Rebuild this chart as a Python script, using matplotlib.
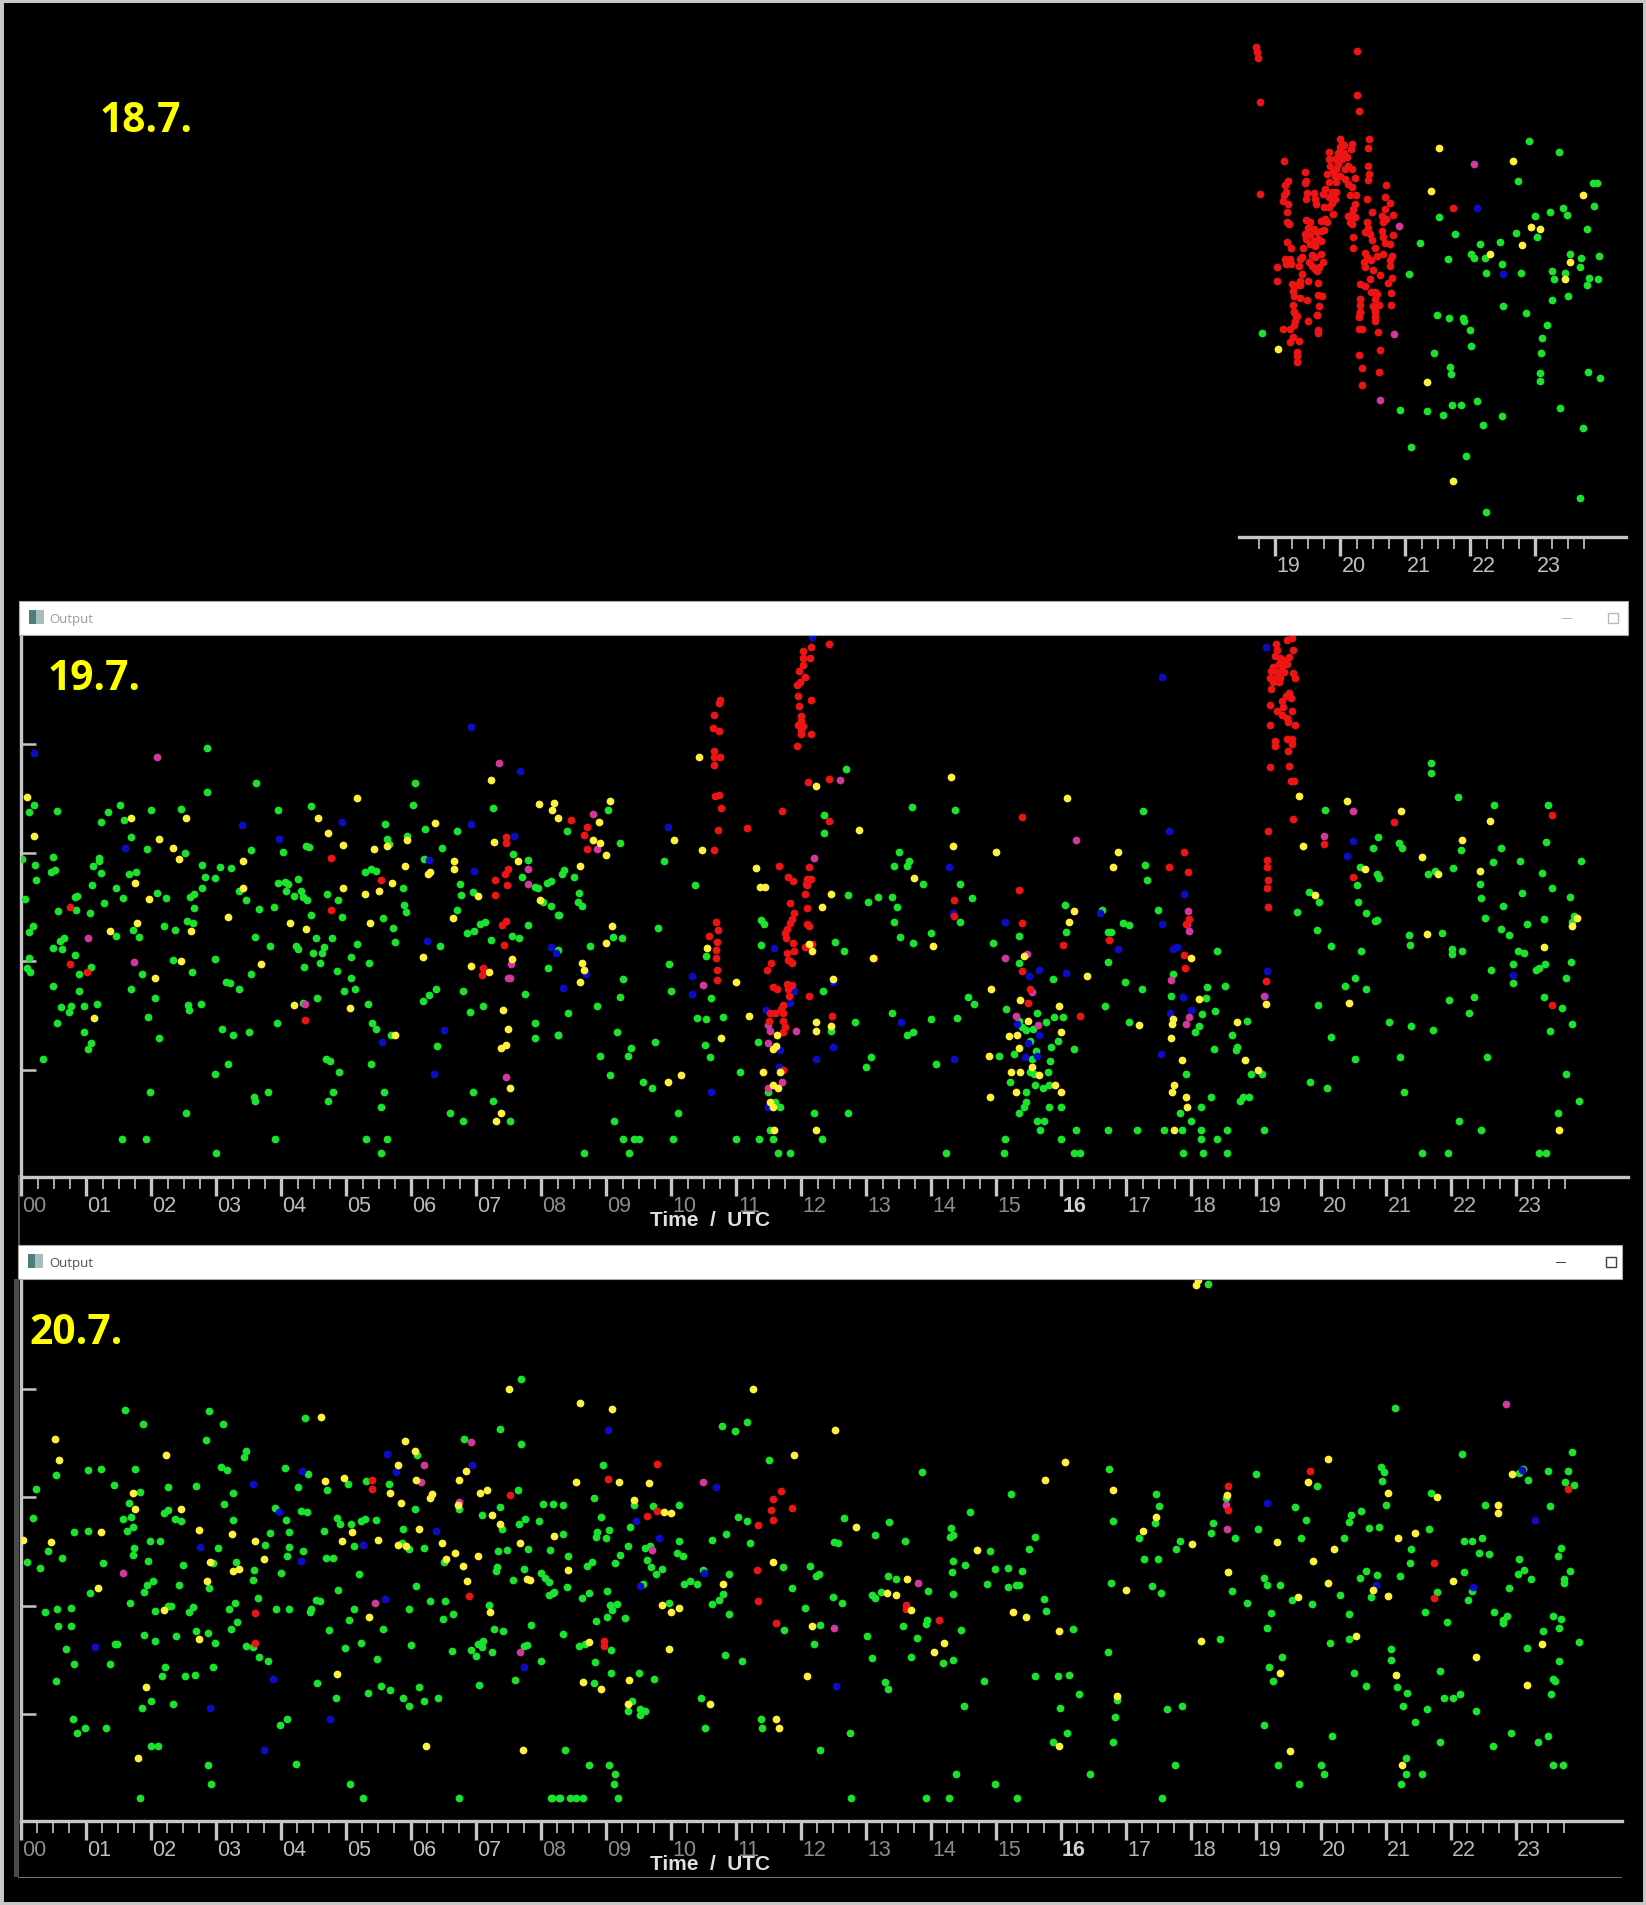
import matplotlib
matplotlib.use("Agg")
import matplotlib.pyplot as plt
import numpy as np
from matplotlib.patches import Rectangle

# (hour UTC, height) for every echo, one array per colour and per day
red_18 = [(18.71,4.52),(18.72,4.48),(18.73,4.42),(18.76,4.02),(18.76,3.17),(20.26,4.49),(20.26,4.08),(20.28,3.93),(20.44,3.68),(20.43,3.59),(20.43,3.43),(20.44,3.35),(20.43,3.30),
(19.14,3.47),(19.19,3.29),(19.15,3.25),(19.17,3.19),(19.13,3.16),(19.12,3.11),(19.19,3.08),(19.18,3.00),(19.18,2.91),(19.21,2.89),(19.18,2.73),(19.24,2.67),(19.02,2.50),(19.02,2.37),(19.15,2.57),(19.23,2.57),(19.17,2.53),(19.24,2.53),
(19.46,3.37),(19.47,3.29),(19.46,3.27),(19.49,3.18),(19.47,3.12),(19.60,3.18),(19.61,3.12),(19.63,3.08),(19.83,3.56),
(19.99,3.68),(20.02,3.63),(19.99,3.60),(20.06,3.62),(20.18,3.63),(20.16,3.58),(19.82,3.49),(19.92,3.49),(20.02,3.49),(20.10,3.51),(19.84,3.43),(19.97,3.45),(20.12,3.43),(20.07,3.40),(20.18,3.40),(19.79,3.35),(19.92,3.34),(19.99,3.34),(20.07,3.31),(20.23,3.32),(19.82,3.28),(19.94,3.28),(20.12,3.26),(20.18,3.23),(19.77,3.22),(19.87,3.19),(19.94,3.19),(19.74,3.17),(19.82,3.14),(19.92,3.12),(19.87,3.09),(19.75,3.05),(19.82,3.05),(19.89,2.99),(20.15,3.16),(20.24,3.16),(20.23,3.08),(20.20,3.03),(20.18,2.99),(20.12,2.97),(20.23,2.96),(20.15,2.91),(20.18,2.89),(19.77,2.94),(19.71,2.92),(19.79,2.91),(19.75,2.84),(19.71,2.83),(19.89,3.38),(19.97,3.55),(20.05,3.55),(19.94,3.40),
(19.47,2.93),(19.53,2.91),(19.51,2.86),(19.59,2.85),(19.46,2.80),(19.54,2.79),(19.64,2.82),(19.48,2.76),(19.59,2.74),(19.66,2.76),(19.53,2.71),(19.61,2.69),(19.71,2.74),(19.42,2.67),(19.56,2.61),(19.71,2.62),(19.41,2.59),(19.38,2.57),(19.61,2.59),(19.74,2.54),(19.36,2.51),(19.52,2.54),(19.56,2.51),(19.61,2.48),(19.68,2.50),(19.64,2.46),
(19.41,2.43),(19.38,2.37),(19.25,2.34),(19.50,2.37),(19.33,2.33),(19.38,2.33),(19.27,2.28),(19.65,2.35),(19.28,2.23),(19.38,2.21),(19.49,2.19),(19.65,2.24),(19.72,2.23),(19.27,2.15),(19.68,2.14),(19.28,2.08),(19.32,2.05),(19.64,2.06),
(20.71,3.25),(20.69,3.14),(20.41,3.12),(20.77,3.09),(20.49,3.00),(20.69,3.03),(20.81,2.98),(20.64,2.97),(20.71,2.94),(20.66,2.91),(20.41,2.91),(20.43,2.86),(20.38,2.82),(20.46,2.80),(20.64,2.83),(20.66,2.77),(20.81,2.79),(20.20,2.77),(20.49,2.75),(20.69,2.72),(20.76,2.71),(20.20,2.67),(20.53,2.67),(20.38,2.63),(20.66,2.62),(20.56,2.60),(20.79,2.60),(20.77,2.56),(20.41,2.59),(20.36,2.54),(20.48,2.56),(20.76,2.51),(20.38,2.50),(20.51,2.47),(20.61,2.42),(20.79,2.40),(20.46,2.39),(20.74,2.35),(20.30,2.34),(20.38,2.32),(20.53,2.27),(20.78,2.26),(20.48,2.27),(20.56,2.25),(20.53,2.20),(20.30,2.20),(20.51,2.14),(20.60,2.15),(20.30,2.15),(20.78,2.15),(20.53,2.10),(20.30,2.08),(20.29,2.04),(20.53,2.04),
(19.29,2.08),(19.34,2.05),(19.30,2.00),(19.29,1.96),(19.23,1.93),(19.12,1.93),(19.51,2.00),(19.64,2.06),(19.65,1.92),(19.66,1.89),(19.27,1.85),(19.23,1.81),(19.36,1.82),(19.34,1.72),(19.33,1.68),(19.34,1.62),
(20.30,2.08),(20.29,2.05),(20.53,2.08),(20.54,2.00),(20.28,1.93),(20.34,1.93),(20.58,1.90),(20.61,1.73),(20.28,1.69),(20.33,1.57),(20.59,1.53),(20.34,1.41),(21.73,3.04)]
magenta_18 = [(22.05,3.45),(20.91,2.88),(20.83,1.88),(20.61,1.27)]
blue_18 = [(22.11,3.04),(22.50,2.43)]
yellow_18 = [(21.52,3.59),(21.39,3.20),(22.65,3.47),(23.73,3.16),(22.93,2.87),(23.08,2.85),(22.80,2.70),(22.31,2.62),(23.54,2.54),(23.46,2.39),(19.04,1.74),(21.33,1.44),(21.73,0.53)]
green_18 = [(22.91,3.66),(23.37,3.56),(22.73,3.29),(23.89,3.27),(23.95,3.27),(23.90,3.06),(23.43,3.04),(23.48,2.98),(23.23,3.00),(22.99,2.97),(21.52,2.96),(23.80,2.85),(22.70,2.81),(23.02,2.77),(21.77,2.80),(22.45,2.73),(21.23,2.72),(22.15,2.71),(22.01,2.62),(22.06,2.58),(22.23,2.58),(21.66,2.57),(22.48,2.53),(23.54,2.62),(23.71,2.58),(23.98,2.60),(23.68,2.50),(22.24,2.44),(22.78,2.44),(23.26,2.46),(23.29,2.39),(23.46,2.44),(23.83,2.40),(23.97,2.39),(23.80,2.33),(21.05,2.43),(23.51,2.23),(23.26,2.19),(22.51,2.14),
(21.49,2.06),(21.68,2.03),(21.89,2.03),(21.91,2.00),(22.86,2.07),(23.18,1.96),(21.99,1.92),(18.79,1.89),(23.11,1.84),(22.01,1.77),(23.09,1.71),(21.44,1.71),(21.69,1.58),(21.71,1.51),(23.08,1.52),(23.07,1.45),(23.81,1.53),(23.99,1.48),(22.11,1.26),(21.72,1.23),(21.86,1.23),(23.38,1.20),(20.92,1.18),(21.34,1.17),(21.58,1.14),(22.48,1.13),(22.20,1.04),(23.73,1.02),(21.09,0.84),(21.93,0.76),(23.68,0.37),(22.24,0.24)]

green_19 = [(.19,3.44),(.11,3.37),(.54,3.38),(1.23,3.28),(1.33,3.37),(1.51,3.44),(1.58,3.30),(1.69,3.14),(1.99,3.39),(2.46,3.40),(2.85,3.96),(2.85,3.56),(3.61,3.64),(3.95,3.39),(4.46,3.43),(6.06,3.64),(6.03,3.44),(5.60,3.26),(5.62,3.13),(5.65,3.08),(5.93,3.15),(6.21,3.22),(6.70,3.20),(7.25,3.41),(6.47,3.04),(6.20,2.94),(7.57,2.99),(7.79,2.93),(1.93,3.03),(2.51,3.00),(3.53,3.02),(4.03,3.01),(4.38,3.06),(4.42,3.05),(.48,2.96),(.01,2.94),(.21,2.89),(1.19,2.95),(1.19,2.92),(1.10,2.88),(1.23,2.81),(.52,2.84),(.45,2.82),(.23,2.75),(1.66,2.80),(1.76,2.82),(2.78,2.89),(3.06,2.87),(3.23,2.86),(2.83,2.78),(2.98,2.77),(5.28,2.82),(5.38,2.85),(5.46,2.83),(1.08,2.70),(1.45,2.67),(2.78,2.67),(2.66,2.62),(2.60,2.59),(3.35,2.65),(3.95,2.72),(4.05,2.73),(4.10,2.71),(4.25,2.76),(4.07,2.65),(4.30,2.65),(4.20,2.60),(4.34,2.59),(4.40,2.56),(4.70,2.62),(4.87,2.56),(5.87,2.67),(6.74,2.71),(6.77,2.61),(6.94,2.64),(7.70,2.78),(7.90,2.68),(7.94,2.67),(8.09,2.72),(8.14,2.74),(.82,2.59),(.86,2.60),(.05,2.57),(1.57,2.58),(2.09,2.63),(2.23,2.58),(1.27,2.54),(.84,2.47),(.56,2.46),(1.06,2.44),(3.45,2.56),(3.65,2.48),(3.88,2.50),(2.66,2.49),(4.45,2.43),(4.93,2.41),(5.88,2.52),(5.92,2.45),(6.70,2.47),(5.57,2.40),(5.72,2.31),(8.02,2.55),(8.15,2.51),(8.25,2.43),(.18,2.32),(.11,2.27),(1.71,2.29),(1.81,2.22),(1.46,2.23),(2.19,2.32),(2.36,2.29),(2.54,2.37),(2.64,2.35),(.66,2.21),(.59,2.19),(.49,2.12),(.63,2.11),(.82,2.06),(3.59,2.22),(3.83,2.14),(4.53,2.21),(4.78,2.21),(4.23,2.14),(4.25,2.11),(4.48,2.08),(4.62,2.08),(4.66,2.13),(5.16,2.16),(5.74,2.18),(6.44,2.14),(6.85,2.26),(6.97,2.28),(7.06,2.34),(7.13,2.36),(7.22,2.20),(7.55,2.23),(7.65,2.21),(7.79,2.33),(8.25,2.10),(.11,2.03),(.08,1.94),(.13,1.90),(1.07,1.95),(.88,1.88),(1.85,1.88),(2.33,2.01),(2.98,2.02),(2.63,1.90),(3.53,1.88),(4.35,1.95),(4.59,1.98),(4.85,1.91),(5.07,2.04),(5.35,1.98),(5.07,1.85),(8.10,1.94),(.48,1.77),(.88,1.73),(1.68,1.74),(3.14,1.81),(3.21,1.80),(3.35,1.74),(4.54,1.66),(4.97,1.73),(5.13,1.74),(6.38,1.74),(6.80,1.73),(7.75,1.70),(6.27,1.69),(6.18,1.63),(2.06,1.66),(.61,1.58),(.76,1.59),(.73,1.53),(.96,1.59),(1.16,1.61),(2.57,1.60),(2.58,1.55),(2.76,1.61),(4.33,1.62),(5.34,1.61),(6.90,1.53),(7.10,1.59),(.54,1.43),(1.95,1.49),(3.93,1.43),(5.40,1.43),(5.46,1.38),(7.90,1.43),(7.90,1.29),(8.25,1.32),(.96,1.35),(2.11,1.29),(3.09,1.38),(3.25,1.32),(3.50,1.35),(5.68,1.32),(6.40,1.22),(1.07,1.25),(1.03,1.19),(.33,1.10),(4.69,1.10),(4.74,1.08),(3.18,1.05),(2.98,.96),(4.88,.98),(5.38,1.05),(1.98,.80),(3.80,.80),(3.58,.75),(3.60,.71),(4.80,.80),(4.71,.71),(5.58,.80),(5.53,.66),(6.95,.80),(7.25,.71),(2.53,.60),(6.59,.60),(6.80,.53),(7.51,.53),(1.54,.36),(1.91,.36),(3.90,.36),(5.30,.36),(5.63,.36),(2.99,.23),(5.53,.23),
(12.68,3.77),(13.70,3.42),(14.37,3.39),(9.03,3.39),(12.35,3.35),(12.35,3.18),(8.40,3.20),(9.21,3.09),(9.88,2.92),(13.50,3.01),(13.66,2.92),(13.63,2.88),(13.42,2.88),(8.35,2.84),(8.31,2.80),(8.50,2.78),(10.36,2.70),(14.44,2.71),(13.87,2.71),(8.58,2.63),(8.57,2.55),(8.63,2.51),(12.72,2.61),(13.02,2.55),(13.18,2.59),(13.40,2.59),(13.47,2.50),(14.63,2.58),(16.05,2.52),(16.63,2.47),(8.27,2.43),(13.43,2.36),(14.44,2.36),(9.79,2.31),(11.38,2.38),(11.42,2.34),(14.00,2.26),(15.34,2.23),(16.07,2.27),(16.71,2.27),(9.10,2.22),(9.24,2.21),(13.51,2.22),(13.72,2.17),(12.51,2.18),(11.38,2.15),(8.75,2.14),(14.95,2.17),(12.65,2.09),(10.53,2.05),(9.96,1.97),(15.35,1.98),(15.87,1.84),(9.26,1.84),(16.71,1.99),(10.00,1.73),(12.33,1.73),(9.21,1.67),(14.57,1.67),(14.65,1.61),(10.61,1.66),(8.86,1.59),(16.67,1.59),(8.41,1.52),(10.40,1.48),(10.53,1.47),(10.80,1.49),(13.40,1.52),(14.00,1.47),(14.39,1.48),(12.83,1.44),(15.15,1.56),(15.62,1.52),(15.77,1.44),(15.89,1.49),(16.02,1.49),(15.35,1.45),(15.40,1.39),(15.46,1.37),(15.57,1.38),(12.46,1.36),(9.17,1.35),(8.26,1.32),(9.75,1.26),(13.72,1.35),(13.63,1.32),(11.33,1.26),(9.38,1.20),(10.52,1.23),(15.51,1.27),(15.94,1.27),(15.84,1.21),(16.20,1.19),(9.33,1.13),(8.90,1.13),(10.60,1.12),(15.04,1.13),(15.27,1.15),(13.07,1.12),(15.61,1.17),(15.54,1.10),(15.82,1.08),(13.00,1.03),(14.07,1.05),(9.05,.95),(11.05,.98),(15.51,.98),(15.58,.96),(15.79,.98),(9.57,.89),(15.21,.89),(9.70,.83),(15.60,.86),(15.71,.83),(15.81,.86),(15.45,.80),(11.49,.80),(15.46,.70),(15.42,.66),(15.81,.66),(16.00,.66),(11.59,.70),(11.67,.66),(10.10,.60),(12.19,.60),(12.72,.60),(15.34,.60),(9.12,.53),(15.62,.53),(15.73,.53),(11.52,.45),(15.67,.45),(16.22,.45),(16.71,.45),(9.25,.36),(9.42,.36),(9.50,.36),(10.02,.36),(10.99,.36),(11.35,.36),(11.57,.36),(12.32,.36),(15.13,.36),(16.00,.36),(8.65,.23),(9.35,.23),(11.64,.23),(11.83,.23),(14.23,.23),(15.12,.23),(16.19,.23),(16.29,.23),
(17.25,3.38),(21.69,3.83),(21.69,3.73),(22.10,3.51),(22.65,3.44),(23.49,3.44),(20.05,3.39),(23.46,3.10),(20.87,3.14),(20.79,3.04),(21.20,3.09),(21.24,3.04),(22.14,3.02),(22.76,3.04),(22.64,2.91),(23.06,2.92),(24.00,2.92),(17.29,2.89),(17.32,2.75),(20.59,2.87),(21.64,2.80),(21.75,2.83),(22.03,2.86),(20.86,2.80),(20.88,2.77),(23.39,2.81),(20.54,2.70),(22.44,2.71),(23.54,2.67),(19.81,2.64),(19.96,2.55),(20.57,2.55),(22.46,2.58),(23.09,2.63),(23.82,2.59),(22.79,2.51),(17.49,2.47),(19.62,2.45),(20.69,2.44),(22.52,2.40),(20.83,2.37),(20.86,2.38),(23.89,2.42),(23.42,2.39),(23.86,2.36),(23.16,2.34),(16.94,2.35),(17.04,2.33),(16.77,2.27),(19.93,2.29),(22.77,2.30),(21.34,2.24),(21.86,2.26),(22.89,2.24),(21.37,2.15),(20.15,2.14),(22.01,2.11),(22.01,2.07),(22.17,2.09),(20.61,2.09),(18.39,2.09),(23.02,2.09),(23.12,2.08),(23.84,1.99),(22.94,1.97),(23.44,1.97),(23.34,1.94),(23.30,1.92),(22.61,1.92),(20.51,1.85),(23.77,1.85),(17.72,1.88),(16.98,1.81),(17.24,1.74),(22.95,1.80),(18.24,1.76),(18.52,1.77),(20.37,1.77),(20.69,1.74),(17.69,1.68),(18.22,1.66),(22.34,1.67),(23.42,1.67),(21.96,1.64),(19.95,1.60),(23.70,1.57),(18.37,1.54),(22.27,1.52),(18.17,1.51),(17.04,1.44),(18.86,1.45),(21.04,1.44),(21.38,1.40),(21.72,1.37),(23.85,1.42),(23.52,1.36),(18.11,1.40),(18.05,1.35),(18.62,1.32),(20.14,1.30),(18.70,1.21),(18.68,1.18),(18.35,1.19),(21.21,1.12),(22.54,1.12),(20.52,1.10),(17.92,.96),(18.92,.96),(19.08,.96),(23.76,.96),(19.82,.89),(20.08,.83),(21.27,.80),(18.30,.75),(18.74,.71),(18.80,.75),(18.88,.75),(23.97,.71),(18.15,.66),(17.82,.60),(23.64,.60),(18.00,.53),(22.12,.53),(17.17,.45),(17.58,.45),(17.86,.45),(18.14,.45),(18.54,.45),(19.11,.45),(22.46,.45),(18.15,.36),(18.39,.36),(17.87,.23),(18.18,.23),(18.55,.23),(21.54,.23),(21.95,.23),(23.35,.23),(23.46,.23)]
yellow_19 = [(.09,3.51),(.19,3.15),(1.69,3.32),(2.53,3.32),(2.12,3.13),(2.33,3.04),(2.43,2.94),(1.75,2.72),(1.96,2.57),(3.41,2.92),(3.41,2.67),(4.57,3.32),(4.71,3.18),(5.16,3.50),(4.95,3.07),(4.95,2.67),(5.43,3.03),(5.62,3.06),(5.93,3.12),(5.90,2.88),(6.36,3.27),(6.25,2.80),(6.29,2.82),(6.65,2.92),(6.66,2.85),(7.22,3.67),(7.27,3.10),(7.64,2.92),(7.96,3.45),(8.19,3.46),(8.16,3.39),(8.25,3.32),(7.03,2.60),(7.98,2.56),(5.70,2.72),(5.28,2.62),(5.50,2.65),(5.37,2.35),(6.64,2.40),(3.18,2.41),(1.78,2.35),(1.36,2.28),(2.61,2.28),(4.13,2.35),(4.38,2.30),(2.45,2.00),(2.06,1.85),(3.68,1.97),(6.18,2.04),(6.92,1.96),(7.20,1.90),(7.54,2.02),(4.20,1.60),(5.05,1.57),(1.11,1.48),(7.41,1.55),(7.49,1.38),(5.74,1.32),(7.46,1.23),(7.38,1.20),(7.51,.83),(7.38,.60),(7.30,.53),
(10.43,3.88),(14.30,3.70),(12.23,3.61),(9.05,3.48),(8.88,3.28),(12.88,3.21),(10.04,3.12),(8.80,3.12),(8.90,3.09),(9.00,2.98),(10.47,3.02),(14.33,3.06),(14.99,3.01),(11.30,2.86),(16.09,3.50),(8.60,2.88),(11.37,2.68),(11.44,2.68),(13.73,2.77),(12.45,2.62),(12.32,2.50),(16.20,2.46),(16.12,2.36),(9.08,2.32),(8.99,2.17),(10.55,2.12),(12.12,2.16),(12.17,2.09),(14.02,2.14),(13.10,2.03),(15.43,2.05),(8.63,1.98),(8.66,1.92),(8.60,1.81),(11.00,1.81),(12.48,1.84),(16.39,1.86),(14.92,1.74),(15.37,1.64),(15.97,1.59),(11.19,1.50),(12.22,1.44),(12.22,1.36),(12.46,1.40),(15.49,1.45),(15.99,1.35),(11.63,1.32),(10.77,1.29),(15.20,1.31),(15.32,1.32),(11.56,1.19),(11.61,1.22),(15.35,1.20),(14.88,1.13),(15.54,1.03),(10.15,.95),(9.95,.89),(11.41,.98),(11.67,.98),(15.22,.98),(15.37,.98),(15.66,.95),(11.57,.86),(11.64,.83),(15.90,.86),(15.30,.80),(15.99,.80),(14.90,.75),(11.52,.70),(11.57,.66),(11.58,.45),(12.23,.45),
(19.65,3.52),(20.40,3.48),(21.22,3.38),(22.59,3.29),(16.87,3.01),(16.80,2.87),(19.72,3.06),(22.16,3.12),(21.55,2.96),(20.67,2.85),(21.80,2.80),(22.44,2.83),(19.90,2.61),(23.93,2.40),(23.85,2.32),(21.62,2.25),(23.42,2.13),(17.99,2.03),(19.14,1.61),(18.12,1.65),(20.43,1.62),(18.70,1.44),(17.72,1.47),(17.70,1.42),(17.20,1.41),(17.69,1.29),(17.85,1.09),(18.82,1.09),(19.02,1.00),(17.73,.86),(17.70,.80),(17.92,.75),(17.93,.66),(17.73,.45),(23.65,.45)]
red_19 = [(.74,2.50),(.74,1.97),(1.01,1.90),(4.36,1.46),(4.76,2.95),(4.76,2.47),(5.53,2.75),(7.45,3.14),(7.45,3.09),(7.49,2.85),(7.44,2.80),(7.28,2.75),(7.47,2.70),(7.28,2.61),(7.45,2.37),(7.39,2.33),(7.42,2.15),(7.10,1.94),(7.09,1.87),
(12.43,4.92),(12.14,4.89),(12.02,4.86),(12.03,4.79),(12.13,4.79),(12.02,4.73),(11.97,4.67),(12.05,4.62),(11.98,4.57),(11.93,4.54),(11.95,4.44),(12.15,4.41),(11.96,4.35),(12.00,4.26),(12.00,4.21),(11.94,4.18),(12.02,4.17),(11.99,4.13),(11.99,4.09),(12.14,4.09),(11.93,3.98),
(10.75,4.41),(10.73,4.38),(10.65,4.27),(10.64,4.15),(10.73,4.12),(10.66,3.94),(10.65,3.88),(10.75,3.88),(10.65,3.81),(10.67,3.52),(10.73,3.53),(10.77,3.41),(10.72,3.21),(10.65,3.02),
(12.10,3.65),(12.43,3.68),(11.70,3.38),(12.42,3.29),(11.17,3.23),(8.70,3.24),(8.45,3.30),(8.66,3.16),(8.70,3.03),
(11.65,2.88),(12.12,2.87),(11.80,2.78),(11.87,2.74),(12.08,2.76),(12.15,2.76),(12.07,2.71),(12.09,2.70),(12.06,2.62),(11.82,2.54),(11.88,2.44),(11.86,2.39),(12.09,2.49),(12.08,2.34),(12.11,2.32),(11.82,2.35),(11.78,2.30),(11.75,2.26),(11.76,2.21),(11.87,2.17),(12.16,2.16),(12.05,2.13),(11.78,2.08),(11.88,2.09),(11.79,2.01),(11.86,1.98),(11.82,2.00),(11.53,1.98),(11.47,1.92),(10.68,2.36),(10.72,2.29),(10.58,2.23),(10.70,2.18),(10.68,2.10),(10.68,2.03),(10.70,1.92),(10.70,1.83),
(11.56,1.76),(11.62,1.74),(11.78,1.79),(11.85,1.78),(11.79,1.74),(11.81,1.68),(12.12,1.68),(11.72,1.60),(11.69,1.56),(11.72,1.52),(11.52,1.52),(11.59,1.52),(11.71,1.45),(11.75,1.39),(11.72,1.35),(11.50,1.45),(12.47,1.50),(13.12,2.03),(14.35,2.56),(14.35,2.42),(15.39,3.33),(15.35,2.66),(15.39,2.35),(15.40,1.91),(15.48,1.62),(16.02,2.15),(16.29,1.50),(15.51,1.74),(11.72,1.00),
(19.47,4.96),(19.55,4.98),(19.30,4.92),(19.57,4.87),(19.31,4.87),(19.29,4.81),(19.50,4.80),(19.37,4.79),(19.42,4.77),(19.34,4.74),(19.47,4.74),(19.26,4.71),(19.39,4.71),(19.23,4.67),(19.32,4.66),(19.42,4.66),(19.57,4.65),(19.21,4.61),(19.29,4.61),(19.37,4.61),(19.59,4.61),(19.26,4.57),(19.34,4.57),(19.22,4.51),(19.50,4.47),(19.45,4.44),(19.53,4.42),(19.40,4.40),(19.41,4.34),(19.21,4.36),(19.31,4.30),(19.55,4.30),(19.39,4.27),(19.47,4.24),(19.21,4.18),(19.49,4.20),(19.59,4.18),(19.29,4.03),(19.47,4.05),(19.54,4.05),(19.29,3.98),(19.55,4.00),(19.48,3.94),(19.21,3.79),(19.50,3.80),(19.53,3.66),(19.58,3.66),(19.57,3.31),(19.18,3.20),(19.16,2.93),(19.17,2.87),(19.18,2.75),(19.17,2.67),(19.18,2.50),(19.14,1.82),(21.12,3.28),(20.04,3.08),(20.49,2.78),(23.54,3.35),(23.54,1.60),(17.89,3.01),(17.65,2.87),(17.95,2.82),(17.96,2.39),(17.92,2.34),(17.88,2.06),(17.90,1.94),(16.73,2.20)]
magenta_19 = [(2.08,3.88),(1.03,2.21),(1.73,1.99),(4.36,1.61),(7.35,3.83),(7.80,2.85),(7.79,2.71),(7.53,1.97),(7.48,1.85),(7.52,1.85),(7.46,.93),(8.80,3.36),(8.85,3.03),(12.20,2.95),(12.60,3.67),(10.49,1.78),(16.22,3.12),(15.13,2.03),(15.47,2.07),(15.55,1.72),(11.49,1.41),(11.52,1.36),(11.92,1.36),(11.49,1.25),(11.70,.89),(11.48,.83),(15.30,1.50),(15.64,1.41),(20.04,3.15),(20.49,3.38),(17.95,2.46),(17.93,2.34),(17.97,2.28),(17.69,1.83),(19.12,1.68),(17.96,1.49),(17.91,1.42)]
blue_19 = [(.19,3.92),(1.59,3.04),(3.40,3.25),(3.97,3.13),(4.93,3.28),(6.92,4.16),(7.67,3.75),(6.92,3.26),(7.58,3.15),(6.27,2.93),(6.97,2.83),(6.24,2.19),(8.15,2.13),(8.22,2.08),(6.50,1.37),(5.55,1.26),(6.35,.96),(9.95,3.24),(14.27,2.87),(14.33,2.44),(15.13,2.36),(16.60,2.44),(11.58,2.12),(8.68,1.88),(8.33,1.75),(10.31,1.86),(10.32,1.70),(12.49,1.81),(11.89,1.73),(11.83,1.62),(11.46,1.55),(15.65,1.92),(15.50,1.86),(16.07,1.89),(11.67,1.18),(12.48,1.21),(12.23,1.10),(14.35,1.10),(13.54,1.44),(11.65,1.03),(10.61,.80),(11.49,.66),(15.32,1.42),(15.65,1.32),(15.49,1.25),(15.44,1.12),(15.62,1.13),(17.54,4.62),(19.15,4.89),(17.65,3.20),(17.89,2.62),(17.54,2.34),(20.39,2.97),(20.48,3.11),(16.87,2.11),(17.72,2.11),(17.78,2.13),(19.16,1.91),(19.13,1.68),(17.87,1.67),(17.99,1.55),(17.67,1.52),(17.53,1.15),(22.95,1.87),(12.17,4.99)]

green_20 = [(18.26,4.96),(1.61,3.80),(1.88,3.67),(2.90,3.79),(3.11,3.67),(2.85,3.53),(4.38,3.73),(3.46,3.43),(3.43,3.37),(7.70,4.09),(7.37,3.63),(7.69,3.49),(6.82,3.54),(6.10,3.39),(.54,3.20),(.24,3.08),(1.03,3.25),(1.24,3.26),(1.76,3.26),(1.43,3.11),(1.84,3.05),(1.66,2.95),(2.26,3.09),(2.69,3.10),(3.08,3.28),(3.18,3.25),(3.27,3.04),(3.13,2.94),(4.07,3.27),(4.42,3.21),(4.26,3.09),(4.71,3.07),(5.03,3.12),(5.31,3.15),(5.66,3.12),(7.65,3.07),(7.37,2.91),(6.07,2.89),(6.75,2.89),(7.10,2.84),(8.03,2.94),(.19,2.81),(1.58,2.80),(1.69,2.82),(1.64,2.69),(1.73,2.73),(.82,2.68),(1.04,2.69),(2.20,2.85),(2.26,2.88),(2.37,2.80),(2.46,2.78),(3.27,2.79),(3.91,2.90),(4.08,2.79),(4.31,2.87),(4.40,2.86),(4.86,2.81),(4.91,2.75),(5.08,2.75),(5.23,2.78),(5.30,2.80),(5.46,2.79),(3.83,2.67),(4.13,2.68),(4.66,2.69),(5.88,2.71),(7.40,2.71),(7.76,2.80),(7.66,2.75),(7.97,2.78),(1.99,2.60),(2.14,2.60),(1.75,2.53),(1.73,2.47),(.42,2.50),(.64,2.44),(.09,2.40),(.30,2.35),(1.26,2.39),(1.96,2.41),(2.49,2.38),(3.03,2.53),(3.31,2.40),(2.96,2.39),(3.59,2.33),(3.76,2.56),(4.12,2.54),(4.09,2.46),(4.35,2.50),(4.69,2.44),(4.81,2.44),(5.12,2.55),(5.86,2.58),(5.98,2.52),(6.20,2.53),(6.52,2.40),(7.34,2.50),(7.48,2.51),(7.80,2.52),(8.14,2.51),(7.33,2.36),(7.31,2.32),(7.75,2.34),(4.01,2.30),(5.21,2.29),(3.58,2.24),(7.57,2.24),(8.01,2.30),(8.06,2.26),(8.12,2.22),(2.43,2.19),(2.03,2.23),(1.95,2.19),(1.90,2.13),(2.90,2.16),(1.06,2.12),(3.65,2.07),(4.88,2.15),(6.08,2.18),(8.20,2.13),(8.12,2.10),(.37,1.94),(.56,1.97),(.77,1.98),(1.68,2.03),(2.06,1.95),(2.26,2.00),(2.32,2.00),(2.65,1.99),(2.59,1.94),(3.30,2.03),(3.21,1.97),(3.93,1.97),(4.13,1.97),(4.55,2.05),(4.60,2.04),(4.47,1.97),(4.45,1.94),(5.12,1.97),(5.97,1.97),(6.30,2.04),(6.53,2.04),(7.20,2.01),(6.50,1.88),(6.65,1.92),(5.05,1.87),(.58,1.81),(.77,1.81),(4.75,1.78),(5.58,1.79),(7.28,1.79),(7.42,1.77),(7.85,1.82),(3.33,1.85),(3.24,1.79),(2.69,1.77),(2.88,1.75),(1.89,1.73),(2.06,1.68),(2.39,1.72),(2.99,1.66),(3.47,1.63),(3.58,1.62),(5.23,1.66),(6.00,1.64),(1.45,1.65),(1.48,1.65),(.70,1.60),(4.99,1.61),(6.63,1.58),(6.92,1.59),(7.00,1.54),(7.25,1.57),(7.04,1.65),(7.11,1.68),(7.09,1.62),(7.75,1.63),(7.79,1.64),(8.00,1.49),(.82,1.46),(1.38,1.46),(2.22,1.44),(3.66,1.53),(3.81,1.49),(5.48,1.51),(2.96,1.44),(2.18,1.35),(2.53,1.35),(2.68,1.36),(.54,1.31),(4.56,1.29),(7.60,1.32),(7.05,1.27),(5.35,1.20),(5.54,1.26),(5.68,1.22),(6.13,1.25),(4.85,1.15),(2.01,1.12),(1.87,1.06),(2.35,1.10),(5.88,1.15),(5.97,1.08),(6.21,1.12),(6.42,1.15),(.80,.96),(.86,.83),(.99,.87),(1.31,.87),(4.09,.96),(3.99,.90),(2.01,.71),(2.11,.71),(2.88,.53),(2.93,.36),(4.23,.54),(5.07,.36),(5.26,.23),(1.83,.23),(6.74,.23),(8.16,.23),(8.28,.23),
(11.51,3.34),(10.79,3.66),(10.99,3.61),(11.17,3.69),(8.96,3.30),(13.86,3.23),(16.74,3.26),(15.23,3.03),(8.19,2.94),(8.34,2.93),(8.82,2.99),(9.43,2.93),(9.72,2.92),(10.13,2.93),(8.93,2.82),(11.04,2.82),(11.17,2.78),(12.66,2.81),(13.36,2.77),(14.61,2.86),(8.34,2.66),(8.86,2.68),(8.85,2.63),(9.05,2.70),(9.00,2.62),(9.37,2.73),(10.85,2.66),(10.64,2.61),(13.15,2.65),(13.60,2.60),(14.31,2.72),(14.35,2.65),(14.29,2.63),(15.61,2.63),(11.22,2.58),(12.51,2.59),(12.58,2.58),(9.34,2.55),(9.60,2.53),(9.68,2.55),(10.13,2.60),(10.09,2.49),(10.19,2.46),(8.42,2.46),(9.22,2.47),(14.91,2.50),(15.51,2.52),(9.15,2.39),(9.64,2.42),(8.71,2.37),(8.79,2.40),(9.70,2.36),(9.87,2.34),(9.77,2.29),(11.73,2.36),(12.14,2.37),(14.35,2.41),(14.32,2.31),(14.52,2.38),(14.99,2.34),(15.19,2.35),(15.41,2.32),(10.90,2.29),(12.23,2.27),(12.28,2.29),(10.49,2.33),(13.34,2.27),(13.46,2.25),(9.58,2.20),(10.20,2.20),(10.29,2.23),(10.40,2.20),(14.86,2.20),(15.19,2.17),(15.31,2.19),(15.36,2.19),(8.40,2.17),(8.19,2.12),(8.75,2.12),(9.02,2.14),(11.87,2.16),(13.96,2.14),(14.35,2.11),(10.80,2.11),(13.09,2.10),(13.14,2.07),(13.24,2.13),(8.64,2.07),(12.49,2.08),(12.64,2.03),(10.74,2.05),(10.64,2.02),(9.07,2.01),(9.17,2.02),(9.10,1.96),(9.98,2.03),(15.74,2.06),(15.77,1.95),(12.07,1.98),(10.89,1.92),(9.02,1.90),(9.30,1.89),(8.85,1.86),(13.94,1.87),(13.92,1.83),(13.57,1.81),(12.29,1.82),(11.74,1.78),(14.46,1.78),(16.19,1.79),(8.34,1.74),(13.02,1.72),(13.79,1.70),(12.21,1.65),(8.59,1.63),(8.68,1.65),(9.08,1.59),(10.84,1.55),(16.73,1.57),(8.84,1.48),(11.09,1.49),(13.10,1.52),(13.69,1.53),(14.35,1.50),(14.19,1.47),(9.08,1.38),(9.51,1.38),(9.75,1.33),(8.82,1.29),(14.82,1.31),(15.61,1.35),(15.96,1.35),(16.13,1.36),(13.29,1.30),(13.34,1.23),(16.28,1.19),(9.40,1.12),(10.47,1.15),(14.51,1.08),(9.34,1.03),(9.53,1.05),(9.60,1.03),(9.53,.99),(15.99,1.06),(11.39,.96),(11.40,.87),(10.52,.87),(12.76,.83),(16.09,.83),(15.88,.75),(8.37,.67),(12.29,.67),(8.74,.53),(9.05,.53),(9.15,.45),(9.12,.36),(14.39,.45),(16.45,.45),(14.99,.36),(8.17,.23),(8.30,.23),(8.45,.23),(8.54,.23),(8.65,.23),(9.19,.23),(12.78,.23),(13.92,.23),(14.28,.23),(15.32,.23),
(21.15,3.82),(23.87,3.42),(22.18,3.40),(20.93,3.28),(20.97,3.23),(20.94,3.15),(19.01,3.21),(19.94,3.10),(23.11,3.26),(23.05,3.22),(23.19,3.16),(23.50,3.24),(23.80,3.24),(23.76,3.14),(23.89,3.11),(17.46,3.03),(17.51,2.92),(21.70,3.04),(18.54,2.99),(19.61,2.91),(21.01,2.93),(22.53,2.93),(23.52,2.92),(20.46,2.84),(20.62,2.87),(19.78,2.79),(20.44,2.77),(17.45,2.76),(18.34,2.76),(16.81,2.78),(18.31,2.67),(20.74,2.72),(20.89,2.73),(19.03,2.71),(21.67,2.71),(17.21,2.62),(17.83,2.60),(18.68,2.62),(19.69,2.62),(20.36,2.62),(22.20,2.60),(22.33,2.60),(22.48,2.62),(17.78,2.52),(21.39,2.52),(23.70,2.53),(23.65,2.46),(22.43,2.49),(22.59,2.48),(17.28,2.43),(17.49,2.43),(23.05,2.43),(21.37,2.39),(20.70,2.32),(20.61,2.26),(20.86,2.28),(21.22,2.27),(22.20,2.31),(23.12,2.33),(23.03,2.29),(23.84,2.32),(23.75,2.25),(23.75,2.21),(19.12,2.26),(23.23,2.25),(19.18,2.19),(19.38,2.19),(16.78,2.21),(17.40,2.18),(17.55,2.12),(18.64,2.14),(21.79,2.13),(22.32,2.14),(22.90,2.16),(20.29,2.10),(20.78,2.08),(19.56,2.05),(18.86,2.03),(19.86,2.02),(22.27,2.05),(19.24,1.93),(20.43,1.92),(21.60,1.94),(22.67,1.94),(22.86,1.91),(22.80,1.87),(22.80,1.84),(23.58,1.91),(23.70,1.88),(21.95,1.85),(19.18,1.80),(23.67,1.80),(23.42,1.77),(18.45,1.69),(20.43,1.69),(20.14,1.66),(23.97,1.67),(21.08,1.60),(23.17,1.61),(19.41,1.53),(21.08,1.50),(23.67,1.49),(19.21,1.44),(21.83,1.40),(20.51,1.38),(19.26,1.31),(23.58,1.33),(23.60,1.31),(20.70,1.26),(21.18,1.25),(21.33,1.20),(22.15,1.19),(23.55,1.19),(21.90,1.15),(22.03,1.15),(16.86,1.13),(17.86,1.08),(17.64,1.05),(21.27,1.08),(21.63,1.05),(22.39,1.03),(16.84,.98),(21.45,.93),(19.13,.90),(22.93,.83),(20.18,.80),(23.49,.80),(23.35,.75),(21.83,.75),(16.80,.75),(22.65,.71),(21.31,.60),(17.76,.53),(19.35,.53),(20.01,.53),(23.57,.53),(23.73,.53),(20.05,.45),(21.31,.45),(21.56,.45),(19.66,.36),(21.23,.36),(17.56,.23)]
yellow_20 = [(.52,3.54),(.59,3.34),(2.24,3.39),(4.62,3.74),(7.52,4.00),(5.91,3.52),(6.06,3.43),(5.80,3.30),(1.73,3.04),(1.76,2.89),(2.46,2.89),(4.68,3.15),(4.98,3.18),(6.08,3.16),(5.68,3.04),(5.85,2.95),(6.85,3.24),(6.75,3.16),(6.33,3.03),(6.30,2.99),(7.07,3.04),(7.18,3.07),(6.73,2.93),(7.25,2.84),(7.37,2.75),(.04,2.61),(.46,2.59),(1.23,2.68),(2.75,2.70),(3.25,2.66),(3.61,2.60),(5.10,2.68),(4.95,2.60),(5.50,2.61),(6.12,2.71),(5.80,2.56),(5.92,2.55),(6.48,2.58),(7.68,2.58),(8.21,2.64),(3.75,2.43),(2.92,2.40),(6.55,2.43),(6.68,2.49),(7.03,2.46),(3.26,2.32),(3.36,2.34),(6.80,2.37),(2.86,2.23),(6.86,2.23),(7.79,2.25),(7.83,2.24),(1.19,2.16),(2.21,1.96),(5.36,1.90),(7.22,1.94),(2.75,1.69),(4.86,1.37),(1.92,1.25),(1.81,.60),(6.23,.71),(7.72,.67),
(8.60,3.87),(9.10,3.81),(11.27,4.00),(12.52,3.62),(11.89,3.39),(16.06,3.32),(15.76,3.16),(8.55,3.14),(9.20,3.14),(9.67,3.13),(9.43,2.97),(9.90,2.86),(10.00,2.85),(12.85,2.73),(8.42,2.33),(14.71,2.51),(11.58,2.40),(13.64,2.25),(10.80,2.20),(13.32,2.12),(13.47,2.10),(13.69,1.96),(9.87,2.01),(10.00,1.94),(10.12,1.98),(15.26,1.94),(15.46,1.90),(12.17,1.81),(15.98,1.77),(8.75,1.67),(9.98,1.60),(14.21,1.66),(14.05,1.57),(12.10,1.35),(9.36,1.32),(8.65,1.30),(8.93,1.23),(10.60,1.10),(9.34,1.10),(11.62,.96),(11.66,.87),(15.98,.71),
(18.08,4.95),(18.11,5.00),(20.11,3.35),(19.80,3.14),(21.03,3.04),(21.79,3.00),(18.56,3.02),(22.73,2.93),(22.72,2.85),(22.95,3.21),(17.46,2.82),(17.26,2.69),(18.02,2.57),(19.33,2.59),(21.19,2.62),(21.45,2.67),(20.20,2.52),(19.88,2.41),(16.80,3.07),(18.57,2.31),(17.01,2.15),(20.11,2.21),(20.81,2.15),(21.03,2.09),(22.03,2.23),(19.65,2.08),(18.16,1.68),(20.55,1.72),(23.40,1.65),(22.39,1.53),(19.37,1.38),(21.16,1.36),(23.18,1.27),(16.86,1.17),(19.53,.66),(21.25,.53)]
red_20 = [(3.61,1.93),(3.61,1.66),(5.40,3.16),(5.40,3.08),(7.53,3.02),(6.90,2.09),(9.79,3.31),(9.04,3.17),(9.64,2.83),(9.79,2.87),(11.70,3.06),(11.58,2.98),(11.55,2.88),(11.57,2.79),(11.87,2.90),(11.34,2.74),(11.32,2.33),(11.34,2.04),(11.62,1.84),(8.98,1.68),(8.98,1.63),(13.62,2.01),(13.62,1.97),(14.13,1.87),(19.84,3.24),(18.57,3.10),(18.58,2.88),(21.74,2.39),(21.74,2.07),(23.81,3.08)]
magenta_20 = [(1.58,2.30),(5.45,2.03),(6.16,3.14),(6.21,3.30),(6.93,3.51),(6.74,2.96),(7.68,1.57),(10.50,3.14),(9.71,2.51),(13.81,2.21),(12.51,1.80),(22.85,3.86),(18.54,2.93),(18.56,2.71)]
blue_20 = [(1.14,1.62),(2.76,2.54),(3.57,3.12),(3.98,2.86),(4.32,3.24),(4.31,2.41),(5.26,2.56),(5.63,3.40),(5.78,3.23),(6.95,3.30),(6.39,2.69),(5.60,2.06),(7.75,1.44),(3.88,1.33),(2.91,1.06),(4.76,.96),(3.75,.67),(9.04,3.62),(10.69,3.09),(9.47,2.78),(9.82,2.62),(10.51,2.30),(9.52,2.18),(12.54,1.26),(19.18,2.95),(23.30,2.79),(20.85,2.19),(22.35,2.17),(23.09,3.25)]

hours_18 = [19, 20, 21, 22, 23]
hours_all = list(range(24))
day_titles = ["18.7.", "19.7.", "20.7."]

W, H = 1646, 1906
GREEN, YELLOW, RED, MAGENTA, BLUE = "#1be32d", "#fff03c", "#ee1414", "#d2389c", "#0c0cc8"
AXIS = "#c6c6c6"
SANS = "Liberation Sans"

fig = plt.figure(figsize=(W / 100, H / 100), dpi=100, facecolor="black")


def px_rect(x0, y0, x1, y1, **kw):
    r = Rectangle((x0 / W, 1 - y1 / H), (x1 - x0) / W, (y1 - y0) / H, transform=fig.transFigure, **kw)
    fig.add_artist(r)


def px_text(x, y, s, **kw):
    fig.text(x / W, 1 - y / H, s, **kw)


def panel(left, right, top, bottom, x0, ymin, ymax, hours, minors, label_colors, yaxis=True):
    # x0 = pixel of hour 00, 65 px per hour
    ax = fig.add_axes([left / W, 1 - bottom / H, (right - left) / W, (bottom - top) / H])
    ax.set_facecolor("black")
    ax.set_xlim((left - x0) / 65.0, (right - x0) / 65.0)
    ax.set_ylim(ymin, ymax)
    for s in ["top", "right"]:
        ax.spines[s].set_visible(False)
    ax.spines["bottom"].set_color(AXIS)
    ax.spines["bottom"].set_linewidth(2.4)
    ax.spines["left"].set_visible(yaxis)
    ax.spines["left"].set_color(AXIS)
    ax.spines["left"].set_linewidth(2.4)
    ax.set_xticks(hours)
    ax.set_xticks(minors, minor=True)
    ax.set_xticklabels([])
    ax.tick_params(axis="x", which="major", length=13.5, width=2.4, color=AXIS, direction="out")
    ax.tick_params(axis="x", which="minor", length=8.5, width=1.2, color=AXIS, direction="out")
    if yaxis:
        ax.set_yticks([1, 2, 3, 4])
        ax.set_yticklabels([])
        ax.tick_params(axis="y", length=11, width=1.8, color=AXIS, direction="in")
    else:
        ax.set_yticks([])
    for h, c in zip(hours, label_colors):
        weight = "bold" if h == 16 else "normal"
        ax.annotate(f"{h:02d}", (h, ymin), xytext=(9.5, -20.5), textcoords="offset points",
                    ha="center", va="center", fontsize=15.5, color=c, family=SANS,
                    weight=weight, annotation_clip=False)
    return ax


def draw_points(ax, green, blue, magenta, yellow, red):
    for pts, col in [(green, GREEN), (blue, BLUE), (magenta, MAGENTA), (red, RED), (yellow, YELLOW)]:
        arr = np.array(pts)
        ax.scatter(arr[:, 0], arr[:, 1], s=31, c=col, linewidths=0, zorder=3)


def title_bar(x0, x1, y0, y1, text_col, btn_col, btn_off):
    px_rect(x0, y0, x1, y1, facecolor="white", edgecolor="#a8a8a8", linewidth=0.8)
    px_rect(x0 + 10, y0 + 9, x0 + 17, y0 + 23, facecolor="#4f7f7c", linewidth=0)
    px_rect(x0 + 17, y0 + 9, x0 + 25, y0 + 23, facecolor="#a9bcbb", linewidth=0)
    px_text(x0 + 31, (y0 + y1) / 2, "Output", fontsize=9.5, color=text_col, family="Open Sans", va="center")
    px_rect(x1 - 66, (y0 + y1) / 2 - 0.5, x1 - 56, (y0 + y1) / 2 + 0.5, facecolor=btn_col, linewidth=0)
    px_rect(x1 - btn_off - 10, (y0 + y1) / 2 - 5, x1 - btn_off, (y0 + y1) / 2 + 5, facecolor="white", edgecolor=btn_col, linewidth=1)


# outer frame and window chrome
px_rect(0, 0, W, H, facecolor="none", edgecolor="#c8c8c8", linewidth=5)
title_bar(18.6, 1628, 602, 636, "#9a9a9a", "#b8b8b8", 10)
title_bar(18, 1622, 1246, 1280, "#505050", "#404040", 6)
px_rect(14, 1280, 18.5, 1878, facecolor="#4a4a4a", linewidth=0)
px_rect(18, 1877.5, 1622, 1878.5, facecolor="#707070", linewidth=0)
px_rect(18, 1176, 20, 1246, facecolor="#555555", linewidth=0)

# 18.7.
minors_18 = [h for h in np.arange(18.75, 24, 0.25) if h not in hours_18]
ax1 = panel(1238.7, 1626, 6, 537.7, 40.3, 0.015, 4.91, hours_18, minors_18, ["#c0c0c0"] * 5, yaxis=False)
draw_points(ax1, green_18, blue_18, magenta_18, yellow_18, red_18)

# 19.7.
minors_all = [h for h in np.arange(0, 24, 0.25) if h not in hours_all]
cols_19 = ["#8c8c8c"] + ["#bdbdbd"] * 7 + ["#8c8c8c"] * 8 + ["#d0d0d0"] + ["#b0b0b0"] * 7
ax2 = panel(21.4, 1628, 637, 1177.8, 21.4, 0.015, 4.995, hours_all, minors_all, cols_19)
draw_points(ax2, green_19, blue_19, magenta_19, yellow_19, red_19)

# 20.7.
cols_20 = ["#8c8c8c"] + ["#c0c0c0"] * 7 + ["#8c8c8c"] * 8 + ["#d0d0d0"] + ["#b8b8b8"] * 7
ax3 = panel(20.7, 1622, 1280.5, 1822, 20.7, 0.018, 5.005, hours_all, minors_all, cols_20)
draw_points(ax3, green_20, blue_20, magenta_20, yellow_20, red_20)

for x, y, s in [(100, 121, day_titles[0]), (48, 680, day_titles[1]), (29, 1334, day_titles[2])]:
    px_text(x, y, s, fontsize=29.3, color="#ffff00", family="Open Sans", weight="bold", va="center")

for y in [1221, 1865]:
    px_text(710, y, "Time  /  UTC", fontsize=15, color="#e0e0e0", family=SANS, weight="bold",
            ha="center", va="center")

fig.savefig("out.png", dpi=100, facecolor="black")
